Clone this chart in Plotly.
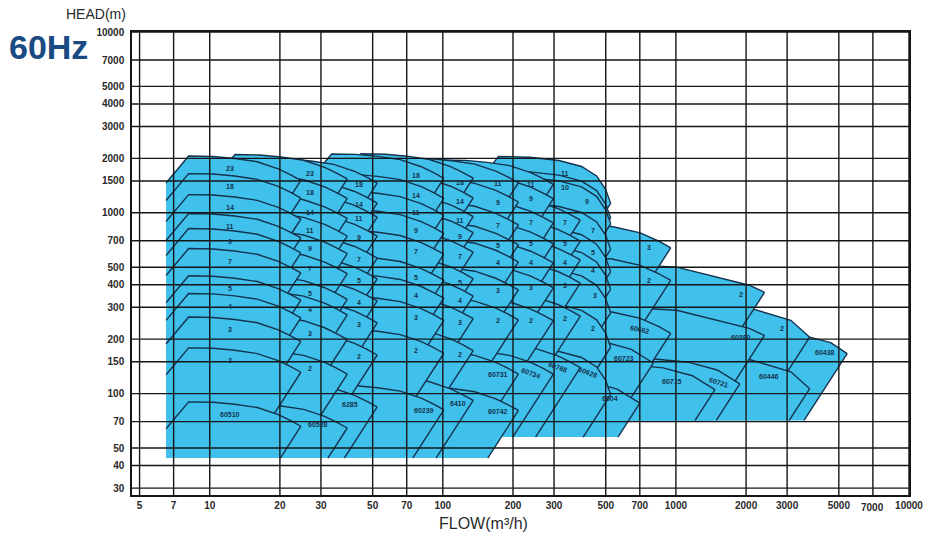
import numpy as np
import plotly.graph_objects as go

FILL = "#3fc1ec"
EDGE = "#15324e"
GRID = "#161616"
TEXT = "#2a2a2a"
FONT = "Liberation Sans, Arial"

X_TICKS = [5, 7, 10, 20, 30, 50, 70, 100, 200, 300, 500, 700, 1000, 2000, 3000, 5000, 7000, 10000]
Y_TICKS = [30, 40, 50, 70, 100, 150, 200, 300, 400, 500, 700, 1000, 1500, 2000, 3000, 4000, 5000, 7000, 10000]

# Relative H-Q shape shared by the multistage ranges (flow / run-out flow, head / shut-off head)
MS_REL_FLOW = [0.264, 0.33, 0.42, 0.52, 0.65, 0.80, 0.90, 1.00]
MS_REL_HEAD = [0.71, 1.00, 0.995, 0.97, 0.93, 0.85, 0.79, 0.733]
# Steeper run-out used by the largest multistage range
I_REL_FLOW = [0.27, 0.33, 0.45, 0.60, 0.75, 0.87, 0.95, 1.00]
I_REL_HEAD = [0.71, 1.00, 0.99, 0.95, 0.88, 0.78, 0.66, 0.55]

# Multistage ranges: run-out flow (m3/h), stage labels, shut-off head of each curve (m)
A_QEND = 24.6
A_LABELS = ["23", "18", "14", "11", "9", "7", "5", "4", "3", "2", "60510"]
A_HEADS = [2060, 1646, 1260, 990, 818, 634, 448, 358, 265, 179, 90]
A_LABEL_Q = [12.2] * 11

B_QEND = 38.9
B_LABELS = ["23", "18", "14", "11", "9", "7", "5", "4", "3", "2", "60528"]
B_HEADS = [2100, 1638, 1270, 1015, 810, 628, 453, 372, 272, 175, 88]
B_LABEL_Q = [27] * 10 + [29]

C_QEND = 52.3
C_LABELS = ["18", "14", "11", "9", "7", "5", "4", "3", "2", "6285"]
C_HEADS = [1992, 1543, 1292, 1014, 766, 588, 444, 336, 223, 115]
C_LABEL_Q = [43.7] * 9 + [40]

D_QEND = 101
D_LABELS = ["18", "14", "11", "9", "7", "5", "4", "3", "2", "60239"]
D_HEADS = [2115, 1640, 1321, 1051, 805, 578, 460, 347, 228, 111]
D_LABEL_Q = [76.7] * 9 + [83]

E_QEND = 135
E_LABELS = ["18", "14", "11", "9", "7", "5", "4", "3", "2", "6410"]
E_HEADS = [2120, 1650, 1300, 1060, 826, 590, 472, 354, 236, 125]
E_LABEL_Q = [119] * 9 + [116]

F_QEND = 211
F_LABELS = ["11", "9", "7", "5", "4", "3", "2", "60731", "60742"]
F_HEADS = [2000, 1565, 1168, 906, 730, 511, 349, 175, 110]
F_LABEL_Q = [173] * 9

G_QEND = 298
G_LABELS = ["11", "9", "7", "5", "4", "3", "2", "60734"]
G_HEADS = [1960, 1632, 1199, 919, 721, 525, 345, 175]
G_LABEL_Q = [240] * 8

H_QEND = 389
H_LABELS = ["7", "5", "4", "3", "2", "60768"]
H_HEADS = [1243, 952, 748, 557, 366, 190]
H_LABEL_Q = [334] * 5 + [313]

I_QEND = 525
I_LABELS = ["11", "10", "9", "7", "5", "4", "3", "2", "60628"]
I_HEADS = [2050, 1700, 1580, 1141, 859, 685, 509, 328, 180]
I_LABEL_Q = [335, 335, 417, 440, 440, 440, 450, 440, 420]

# Large-flow ranges, each with its own relative curve shape
J_QEND = 950
J_REL_FLOW = [0.26, 0.35, 0.56, 0.74, 0.89, 1.00]
J_REL_HEAD = [0.71, 1.00, 0.965, 0.89, 0.80, 0.735]
J_LABELS = ["3", "2", "60662"]
J_HEADS = [870, 575, 293]
J_LABEL_Q = [768, 768, 700]

K_QEND = 2400
K_REL_FLOW = [0.14, 0.19, 0.42, 0.70, 0.86, 1.00]
K_REL_HEAD = [0.71, 1.00, 0.945, 0.80, 0.75, 0.685]
K_LABELS = ["2", "60380"]
K_HEADS = [530, 306]
K_LABEL_Q = [1897, 1897]

L_QEND = 3750
L_REL_FLOW = [0.14, 0.19, 0.42, 0.56, 0.83, 1.00]
L_REL_HEAD = [0.71, 1.00, 0.97, 0.93, 0.80, 0.645]
L_LABELS = ["2", "60446"]
L_HEADS = [318, 165]
L_LABEL_Q = [2865, 2520]

M_QEND = 5430
M_REL_FLOW = [0.20, 0.26, 0.50, 0.69, 0.85, 1.00]
M_REL_HEAD = [0.71, 1.00, 0.97, 0.90, 0.84, 0.73]
M_LABELS = ["60438"]
M_HEADS = [228]
M_LABEL_Q = [4375]

SINGLE_REL_FLOW = [0.26, 0.33, 0.43, 0.60, 0.80, 1.00]
SINGLE_REL_HEAD = [0.71, 1.00, 0.99, 0.95, 0.86, 0.72]

N_QEND = 1880
N_LABELS = ["60721"]
N_HEADS = [157]
N_LABEL_Q = [1530]

O_QEND = 1470
O_LABELS = ["60715"]
O_HEADS = [146]
O_LABEL_Q = [960]

P_QEND = 700
P_LABELS = ["6604"]
P_HEADS = [123]
P_LABEL_Q = [520]

Q_QEND = 800
Q_LABELS = ["60723"]
Q_HEADS = [205]
Q_LABEL_Q = [600]

# Lowest head reached by each range's outline (m)
BOTTOM_LOW = 44
BOTTOM_MID = 57.5
BOTTOM_HIGH = 71


def lg(v):
    return np.log10(np.asarray(v, dtype=float))


def ray_hit(start, curve):
    """First crossing of a down-left ray (slope 2 on log-log) with a curve."""
    d = np.array([-1.0, -2.0])
    best = None
    for k in range(len(curve) - 1):
        a, b = curve[k], curve[k + 1]
        m = np.array([[d[0], a[0] - b[0]], [d[1], a[1] - b[1]]])
        if abs(np.linalg.det(m)) < 1e-12:
            continue
        t, s = np.linalg.solve(m, a - start)
        if t > 1e-9 and -1e-9 <= s <= 1 + 1e-9 and (best is None or t < best[0]):
            best = (t, k)
    if best is None:
        return None, None
    return start + best[0] * d, best[1]


def build_range(qend, heads, rel_flow, rel_head, bottom):
    rf, rh = np.array(rel_flow), np.array(rel_head)
    curves = [np.column_stack([lg(qend * rf), lg(h * rh)]) for h in heads]
    lb = float(lg(bottom))
    x0 = curves[0][0, 0]
    outline = [np.array([x0, lb])] + list(curves[0])
    bounds = []
    for i, c in enumerate(curves):
        end = c[-1]
        p = None
        if i + 1 < len(curves):
            p, k = ray_hit(end, curves[i + 1])
        if p is not None:
            bounds.append((end, p))
            outline.append(p)
            outline.extend(curves[i + 1][k + 1:])
        else:
            t = (end[1] - lb) / 2.0
            p = np.array([end[0] - t, lb])
            bounds.append((end, p))
            outline.append(p)
            break
    outline.append(np.array([x0, lb]))
    return curves, bounds, np.array(outline)


def curve_head_at(curve, q):
    return float(np.interp(np.log10(q), curve[:, 0], curve[:, 1]))


# drawn from the largest flows to the smallest so each range overlaps the next one
ranges = [
    (M_QEND, M_HEADS, M_LABELS, M_LABEL_Q, M_REL_FLOW, M_REL_HEAD, BOTTOM_HIGH, [0]),
    (L_QEND, L_HEADS, L_LABELS, L_LABEL_Q, L_REL_FLOW, L_REL_HEAD, BOTTOM_HIGH, [0, 0]),
    (K_QEND, K_HEADS, K_LABELS, K_LABEL_Q, K_REL_FLOW, K_REL_HEAD, BOTTOM_HIGH, [0, 0]),
    (N_QEND, N_HEADS, N_LABELS, N_LABEL_Q, SINGLE_REL_FLOW, SINGLE_REL_HEAD, BOTTOM_HIGH, [18]),
    (O_QEND, O_HEADS, O_LABELS, O_LABEL_Q, SINGLE_REL_FLOW, SINGLE_REL_HEAD, BOTTOM_HIGH, [0]),
    (J_QEND, J_HEADS, J_LABELS, J_LABEL_Q, J_REL_FLOW, J_REL_HEAD, BOTTOM_HIGH, [0, 0, 12]),
    (Q_QEND, Q_HEADS, Q_LABELS, Q_LABEL_Q, SINGLE_REL_FLOW, SINGLE_REL_HEAD, BOTTOM_MID, [0]),
    (P_QEND, P_HEADS, P_LABELS, P_LABEL_Q, SINGLE_REL_FLOW, SINGLE_REL_HEAD, BOTTOM_MID, [0]),
    (I_QEND, I_HEADS, I_LABELS, I_LABEL_Q, I_REL_FLOW, I_REL_HEAD, BOTTOM_MID, [0] * 8 + [20]),
    (H_QEND, H_HEADS, H_LABELS, H_LABEL_Q, MS_REL_FLOW, MS_REL_HEAD, BOTTOM_MID, [0] * 5 + [20]),
    (G_QEND, G_HEADS, G_LABELS, G_LABEL_Q, MS_REL_FLOW, MS_REL_HEAD, BOTTOM_MID, [0] * 7 + [20]),
    (F_QEND, F_HEADS, F_LABELS, F_LABEL_Q, MS_REL_FLOW, MS_REL_HEAD, BOTTOM_LOW, [0] * 9),
    (E_QEND, E_HEADS, E_LABELS, E_LABEL_Q, MS_REL_FLOW, MS_REL_HEAD, BOTTOM_LOW, [0] * 10),
    (D_QEND, D_HEADS, D_LABELS, D_LABEL_Q, MS_REL_FLOW, MS_REL_HEAD, BOTTOM_LOW, [0] * 10),
    (C_QEND, C_HEADS, C_LABELS, C_LABEL_Q, MS_REL_FLOW, MS_REL_HEAD, BOTTOM_LOW, [0] * 10),
    (B_QEND, B_HEADS, B_LABELS, B_LABEL_Q, MS_REL_FLOW, MS_REL_HEAD, BOTTOM_LOW, [0] * 11),
    (A_QEND, A_HEADS, A_LABELS, A_LABEL_Q, MS_REL_FLOW, MS_REL_HEAD, BOTTOM_LOW, [0] * 11),
]

fig = go.Figure()
annotations = []
LABEL_DROP = 11 / 181.0  # labels sit just under their curve (in decades)

for qend, heads, labels, label_q, rf, rh, bottom, angles in ranges:
    curves, bounds, outline = build_range(qend, heads, rf, rh, bottom)
    fig.add_trace(go.Scatter(
        x=10 ** outline[:, 0], y=10 ** outline[:, 1], mode="lines", fill="toself",
        fillcolor=FILL, line=dict(width=0), hoverinfo="skip", showlegend=False))
    xs, ys = [], []
    for c in curves:
        xs += list(10 ** c[:, 0]) + [None]
        ys += list(10 ** c[:, 1]) + [None]
    for a, b in bounds:
        xs += [10 ** a[0], 10 ** b[0], None]
        ys += [10 ** a[1], 10 ** b[1], None]
    fig.add_trace(go.Scatter(x=xs, y=ys, mode="lines", line=dict(color=EDGE, width=1.4),
                             hoverinfo="skip", showlegend=False))
    for c, lab, q, ang in zip(curves, labels, label_q, angles):
        annotations.append(dict(
            x=np.log10(q), y=curve_head_at(c, q) - LABEL_DROP, xref="x", yref="y",
            xanchor="center", yanchor="middle",
            text="<b>%s</b>" % lab, showarrow=False, textangle=ang,
            font=dict(family=FONT, size=7, color=EDGE)))

# grid drawn over the coloured ranges
gx, gy = [], []
for v in X_TICKS:
    gx += [v, v, None]
    gy += [27.5, 10000, None]
hx, hy = [], []
for v in Y_TICKS:
    hx += [10 ** 0.6665, 10000, None]
    hy += [v, v, None]
fig.add_trace(go.Scatter(x=gx, y=gy, mode="lines", line=dict(color=GRID, width=1.4),
                         hoverinfo="skip", showlegend=False))
fig.add_trace(go.Scatter(x=hx, y=hy, mode="lines", line=dict(color=GRID, width=1.4),
                         hoverinfo="skip", showlegend=False))

annotations += [
    dict(x=-0.0467, y=1.038, xref="paper", yref="paper", text="HEAD(m)", showarrow=False,
         xanchor="center", yanchor="middle", font=dict(family=FONT, size=14, color=TEXT)),
    dict(x=-0.1074, y=0.9676, xref="paper", yref="paper", text="<b>60Hz</b>", showarrow=False,
         xanchor="center", yanchor="middle", font=dict(family=FONT, size=34, color="#1a4a82")),
    dict(x=0.453, y=-0.0605, xref="paper", yref="paper", text="FLOW(m³/h)", showarrow=False,
         xanchor="center", yanchor="middle", font=dict(family=FONT, size=16, color=TEXT)),
    # the 7000 flow label sits a little lower than its neighbours
    dict(x=np.log10(7000), y=-0.028, xref="x", yref="paper", text="<b>7000</b>", showarrow=False,
         xanchor="center", yanchor="middle", font=dict(family=FONT, size=10, color=TEXT)),
]

fig.update_layout(
    width=935, height=539,
    margin=dict(l=132, r=21, t=32, b=44),
    paper_bgcolor="white", plot_bgcolor="white",
    annotations=annotations,
    xaxis=dict(type="log", range=[0.6665, 4.0], tickvals=X_TICKS,
               ticktext=["" if v == 7000 else "<b>%d</b>" % v for v in X_TICKS],
               showgrid=False, zeroline=False,
               showline=True, linecolor=GRID, linewidth=1.5, mirror=True,
               tickfont=dict(family=FONT, size=10, color=TEXT)),
    yaxis=dict(type="log", range=[1.439, 4.0], tickvals=Y_TICKS,
               ticktext=["<b>%d</b>" % v for v in Y_TICKS], showgrid=False, zeroline=False,
               showline=True, linecolor=GRID, linewidth=1.5, mirror=True,
               ticklabelstandoff=4,
               tickfont=dict(family=FONT, size=10, color=TEXT)),
)

fig.write_html("out.html")
